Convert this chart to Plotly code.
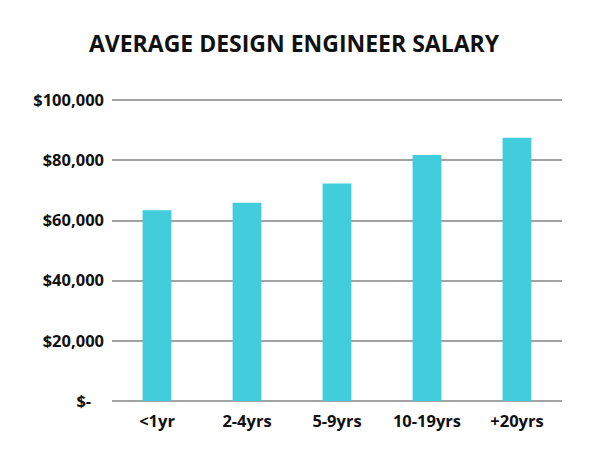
import plotly.graph_objects as go

categories = ["<1yr", "2-4yrs", "5-9yrs", "10-19yrs", "+20yrs"]
salaries = [63400, 65900, 72300, 81800, 87500]
tick_values = [0, 20000, 40000, 60000, 80000, 100000]
tick_labels = ["$-\u00a0\u00a0\u00a0", "$20,000", "$40,000", "$60,000", "$80,000", "$100,000"]

fig = go.Figure(go.Bar(
    x=categories, y=salaries,
    marker=dict(color="#42CDDC", line=dict(width=0)),
))

# page body has an 8px default margin, so the figure is 592x450 and offset by 8px
fig.update_layout(
    width=592, height=450,
    margin=dict(l=104, r=38, t=91, b=57),
    paper_bgcolor="white", plot_bgcolor="white",
    bargap=0.68,
    showlegend=False,
    font=dict(family="Open Sans", color="#111111"),
    title=dict(text="AVERAGE DESIGN ENGINEER SALARY", x=(294 - 8) / 592, xanchor="center",
               y=1 - (44 - 8) / 450, yanchor="middle",
               font=dict(size=23, family="Open Sans", color="#111111", weight="bold")),
)
fig.update_yaxes(
    range=[0, 100400], tickvals=tick_values, ticktext=tick_labels,
    showgrid=True, gridcolor="#a3a3a3", gridwidth=1.5,
    zeroline=True, zerolinecolor="#a3a3a3", zerolinewidth=1.5,
    tickfont=dict(size=16.5, family="Open Sans", color="#111111", weight="bold"),
    ticks="", ticklabelstandoff=7, fixedrange=True,
)
fig.update_xaxes(
    showgrid=False, showline=False, ticks="", ticklabelstandoff=8,
    tickfont=dict(size=16.5, family="Open Sans", color="#111111", weight="bold"),
)
fig.update_traces(hoverinfo="skip")

fig.write_html("out.html")
